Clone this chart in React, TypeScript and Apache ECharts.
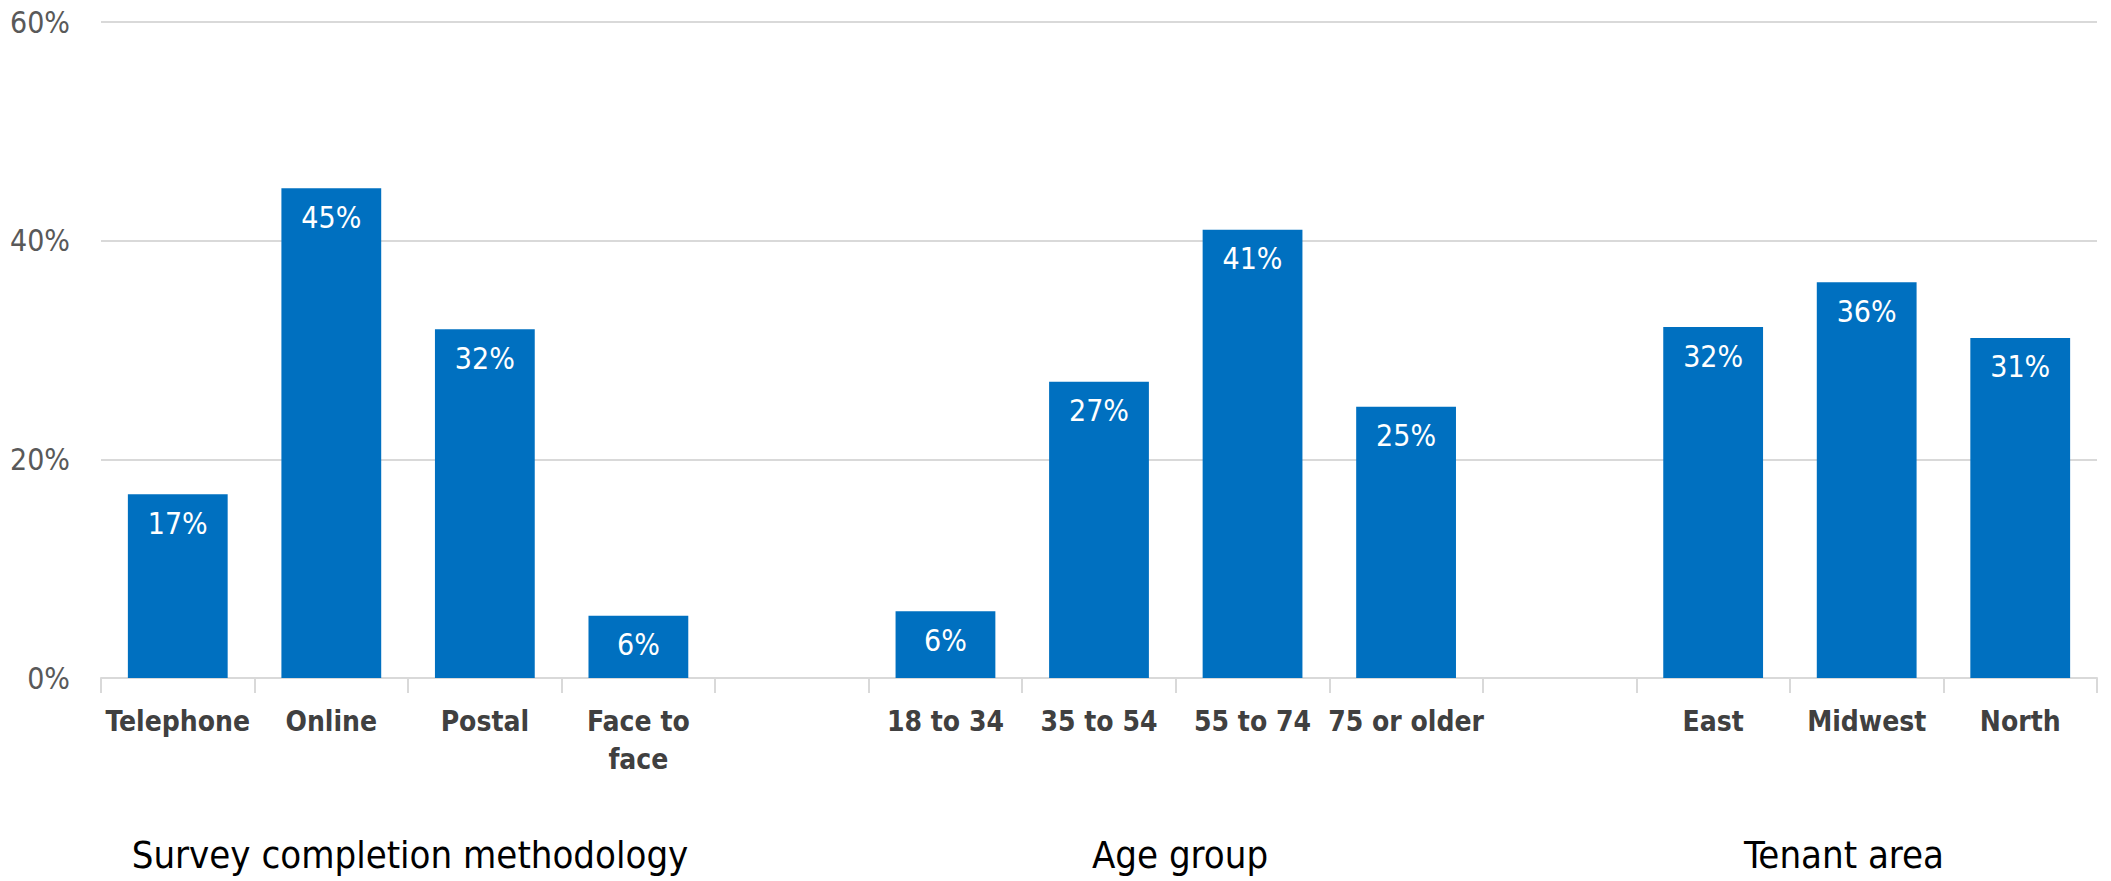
import React, { useEffect, useRef } from "react";
import * as echarts from "echarts";

const categories = [
  "Telephone", "Online", "Postal", "Face to\nface", "",
  "18 to 34", "35 to 54", "55 to 74", "75 or older", "",
  "East", "Midwest", "North",
];
const values: (number | null)[] = [
  16.8, 44.8, 31.9, 5.7, null,
  6.1, 27.1, 41.0, 24.8, null,
  32.1, 36.2, 31.1,
];
const yTicks = { min: 0, max: 60, interval: 20 };
const groupLabels = ["Survey completion methodology", "Age group", "Tenant area"];

const FONT = "'Liberation Sans Narrow', 'DejaVu Sans Condensed', 'Liberation Sans', sans-serif";

export default function App() {
  const ref = useRef<HTMLDivElement>(null);
  useEffect(() => {
    if (!ref.current) return;
    const chart = echarts.init(ref.current, undefined, { renderer: "svg" });
    const groupX = [410, 1180, 1844];
    chart.setOption({
      animation: false,
      backgroundColor: "#ffffff",
      grid: { left: 101, right: 14, top: 22, bottom: 203, containLabel: false },
      xAxis: {
        type: "category",
        data: categories,
        axisLine: { show: true, lineStyle: { color: "#d9d9d9", width: 2 } },
        axisTick: { show: true, length: 15, lineStyle: { color: "#d9d9d9", width: 2 } },
        axisLabel: {
          interval: 0,
          margin: 24,
          color: "#404040",
          fontWeight: "bold",
          fontSize: 28,
          fontFamily: FONT,
          lineHeight: 38,
        },
      },
      yAxis: {
        type: "value",
        min: yTicks.min,
        max: yTicks.max,
        interval: yTicks.interval,
        axisLine: { show: false },
        axisTick: { show: false },
        splitLine: { lineStyle: { color: "#d9d9d9", width: 2 } },
        axisLabel: {
          formatter: (v: number) => `${v}%`,
          color: "#595959",
          fontSize: 30,
          fontFamily: FONT,
          margin: 31,
        },
      },
      series: [
        {
          type: "bar",
          data: values,
          barCategoryGap: "35%",
          itemStyle: { color: "#0070C0" },
          label: {
            show: true,
            position: "insideTop",
            distance: 14,
            color: "#ffffff",
            fontSize: 30,
            fontFamily: FONT,
            formatter: (p: any) => `${Math.round(p.value)}%`,
          },
        },
      ],
      graphic: groupLabels.map((t, i) => ({
        type: "text",
        x: groupX[i],
        y: 855,
        style: {
          text: t,
          fill: "#000000",
          fontSize: 38,
          fontFamily: FONT,
          textAlign: "center",
          textVerticalAlign: "middle",
        },
      })),
    });
    return () => chart.dispose();
  }, []);
  return (
    <div
      ref={ref}
      style={{ position: "fixed", left: 0, top: 0, width: 2111, height: 881 }}
    />
  );
}
